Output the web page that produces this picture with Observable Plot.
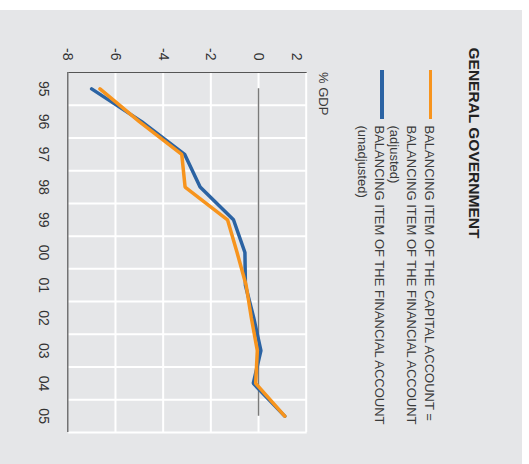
<!DOCTYPE html>
<html>
<head>
<meta charset="utf-8">
<script src="https://cdn.jsdelivr.net/npm/d3@7"></script>
<script src="https://cdn.jsdelivr.net/npm/@observablehq/plot@0.6"></script>
<style>
  html, body { margin: 0; padding: 0; background: #ffffff; width: 529px; height: 464px; overflow: hidden; }
  #rot { position: absolute; left: 0; top: 0; width: 464px; height: 529px;
         transform-origin: 0 0; transform: translate(529px, 0) rotate(90deg);
         font-family: "Liberation Sans", Arial, sans-serif; color: #333; }
  #bg { position: absolute; left: 10px; top: 7px; width: 454px; height: 522px; background: #e5e6e8; }
  .title { position: absolute; left: 47.5px; top: 46.3px; font-size: 15.5px; line-height: 18px; font-weight: bold; color: #222; white-space: nowrap; }
  .leg { position: absolute; left: 125.5px; font-size: 13px; line-height: 17.5px; color: #3a3a3a; white-space: nowrap; }
  .sw { position: absolute; left: 70px; width: 49px; height: 3.5px; }
  .unit { position: absolute; left: 72px; top: 197.4px; font-size: 13px; line-height: 17.5px; color: #3a3a3a; }
  #chart { position: absolute; left: 0; top: 0; }
</style>
</head>
<body>
<div id="rot">
  <div id="bg"></div>
  <div class="title">GENERAL GOVERNMENT</div>
  <div class="sw" style="top:96.5px;background:#f7941d"></div>
  <div class="leg" style="top:91.4px">BALANCING ITEM OF THE CAPITAL ACCOUNT =<br>BALANCING ITEM OF THE FINANCIAL ACCOUNT<br>(adjusted)</div>
  <div class="sw" style="top:145px;background:#2b63a3"></div>
  <div class="leg" style="top:140.7px">BALANCING ITEM OF THE FINANCIAL ACCOUNT<br>(unadjusted)</div>
  <div class="unit">% GDP</div>
  <div id="chart"></div>
</div>
<script>
const years = ["95","96","97","98","99","00","01","02","03","04","05"];
const capitalAdjusted = [-6.65, -5.0, -3.22, -3.08, -1.3, -0.9, -0.52, -0.3, -0.05, -0.12, 1.1];
const financialUnadjusted = [-7.0, -4.9, -3.1, -2.45, -1.05, -0.57, -0.55, -0.2, 0.1, -0.22, 1.1];
const yTicks = [-8, -6, -4, -2, 0, 2];

const idx = years.map((_, i) => i);
const bounds = d3.range(years.length + 1).map(i => i - 0.5);
const orange = idx.map(i => ({i, v: capitalAdjusted[i]}));
const blue = idx.map(i => ({i, v: financialUnadjusted[i]}));

const chart = Plot.plot({
  width: 464,
  height: 529,
  marginLeft: 72,
  marginRight: 32,
  marginTop: 222.3,
  marginBottom: 68.3,
  style: {background: "transparent", fontFamily: "Liberation Sans, Arial, sans-serif", fontSize: "13px", color: "#333"},
  x: {type: "linear", domain: [-0.5, years.length - 0.5], axis: null},
  y: {domain: [-8, 2], axis: null},
  marks: [
    Plot.ruleX(bounds.slice(1), {stroke: "#ffffff", strokeWidth: 2}),
    Plot.ruleY(yTicks.slice(1), {stroke: "#ffffff", strokeWidth: 2}),
    Plot.ruleX([bounds[0]], {stroke: "#555", strokeWidth: 1.2}),
    Plot.ruleY([yTicks[0]], {stroke: "#555", strokeWidth: 1.2}),
    Plot.ruleY([0], {x1: 0, x2: years.length - 1, stroke: "#7a7a7a", strokeWidth: 1.5}),
    Plot.line(blue, {x: "i", y: "v", stroke: "#2b63a3", strokeWidth: 3.5, strokeLinejoin: "miter"}),
    Plot.line(orange, {x: "i", y: "v", stroke: "#f7941d", strokeWidth: 3.5, strokeLinejoin: "miter"}),
    Plot.text(yTicks.filter(d => d !== 2), {x: bounds[0], y: d => d, text: d => String(d), dx: -12, textAnchor: "end", fontSize: 14, fill: "#333"}),
    Plot.text([2], {x: bounds[0], y: d => d, text: d => String(d), dx: -12, dy: 10, textAnchor: "end", fontSize: 14, fill: "#333"}),
    Plot.text(idx, {x: d => d, y: -8, text: d => years[d], dy: 24, fontSize: 14, fill: "#333"})
  ]
});
document.getElementById("chart").appendChild(chart);
</script>
</body>
</html>
